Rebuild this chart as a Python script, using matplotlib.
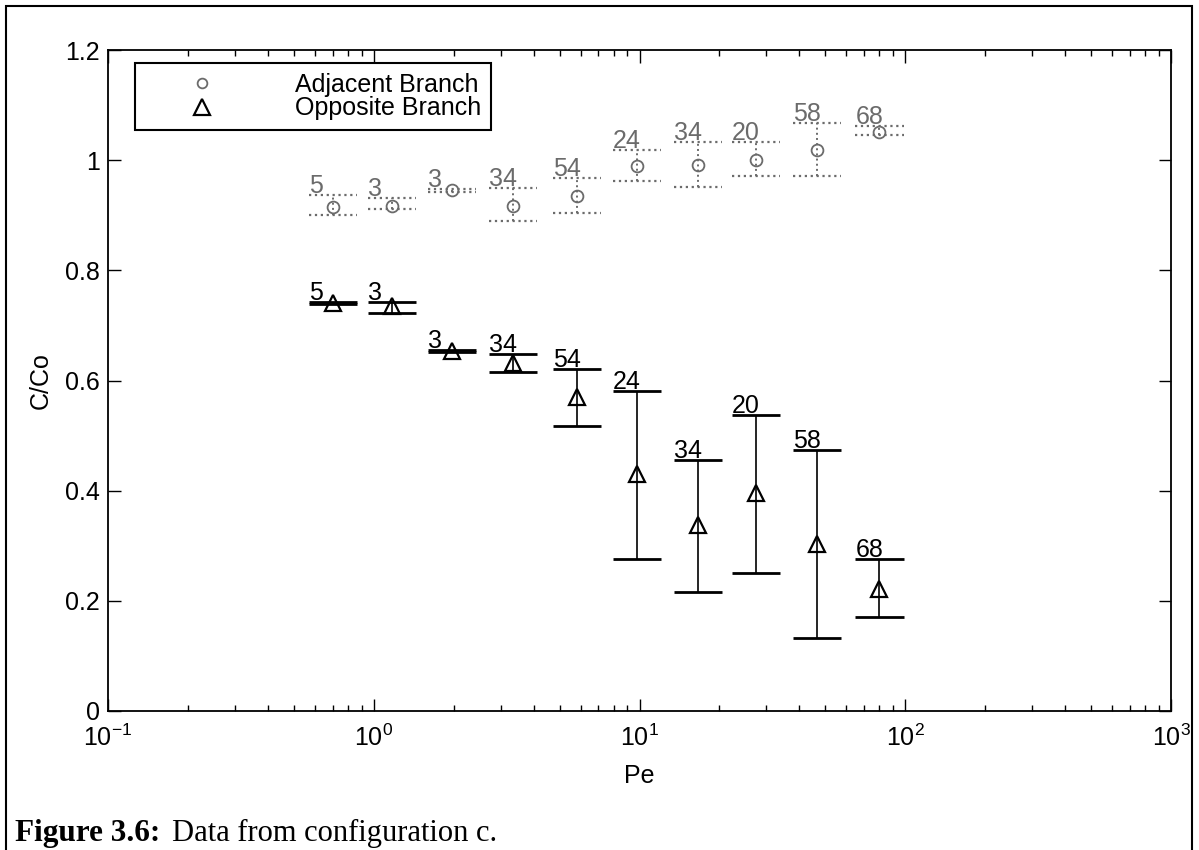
import matplotlib
matplotlib.use('Agg')
import matplotlib.pyplot as plt
import numpy as np
from matplotlib.patches import Rectangle
from matplotlib.ticker import LogLocator, NullLocator, NullFormatter

# ---- data ----
pe = [0.70, 1.17, 1.97, 3.35, 5.8, 9.8, 16.6, 27.5, 46.5, 80.0]
counts = [5, 3, 3, 34, 54, 24, 34, 20, 58, 68]

adj_mean = [0.915, 0.916, 0.945, 0.916, 0.935, 0.989, 0.992, 1.000, 1.018, 1.052]
adj_low = [0.901, 0.912, 0.943, 0.889, 0.904, 0.963, 0.951, 0.971, 0.971, 1.045]
adj_high = [0.936, 0.931, 0.948, 0.949, 0.968, 1.018, 1.033, 1.033, 1.067, 1.062]

opp_mean = [0.740, 0.735, 0.654, 0.631, 0.570, 0.430, 0.337, 0.395, 0.303, 0.222]
opp_low = [0.738, 0.722, 0.652, 0.616, 0.517, 0.276, 0.216, 0.250, 0.133, 0.171]
opp_high = [0.742, 0.743, 0.655, 0.648, 0.621, 0.581, 0.456, 0.538, 0.473, 0.276]

yticks = [0, 0.2, 0.4, 0.6, 0.8, 1.0, 1.2]
ytick_labels = ['0', '0.2', '0.4', '0.6', '0.8', '1', '1.2']
xticks = [0.1, 1, 10, 100, 1000]
xtick_labels = ['$10^{-1}$', '$10^{0}$', '$10^{1}$', '$10^{2}$', '$10^{3}$']

plt.rcParams['font.family'] = ['Liberation Sans', 'DejaVu Sans']
plt.rcParams['mathtext.default'] = 'regular'

W, H = 1199, 850
fig = plt.figure(figsize=(W / 100, H / 100), dpi=100)
L, R, T, B = 108, 1171, 50, 711
ax = fig.add_axes([L / W, 1 - B / H, (R - L) / W, (B - T) / H])
ax.set_xscale('log')
ax.set_xlim(0.1, 1000)
ax.set_ylim(0, 1.2)

gray = '0.42'
pe_a = np.array(pe)
f = 10 ** (24 / 265.5)   # half-width of caps (multiplicative on log axis)

# adjacent branch
ax.vlines(pe, adj_low, adj_high, colors=gray, linestyles=':', lw=1.4)
ax.hlines(adj_low, pe_a / f, pe_a * f, colors=gray, linestyles=':', lw=1.6)
ax.hlines(adj_high, pe_a / f, pe_a * f, colors=gray, linestyles=':', lw=1.6)
ax.plot(pe, adj_mean, 'o', ms=8.5, mfc='none', mec=gray, mew=1.3,
        label='Adjacent Branch')

# opposite branch
ax.vlines(pe, opp_low, opp_high, colors='k', lw=1.2)
ax.hlines(opp_low, pe_a / f, pe_a * f, colors='k', lw=2)
ax.hlines(opp_high, pe_a / f, pe_a * f, colors='k', lw=2)
ax.plot(pe, opp_mean, '^', ms=11, mfc='none', mec='k', mew=1.6,
        label='Opposite Branch')

for x, hi, n in zip(pe, adj_high, counts):
    ax.annotate(str(n), xy=(x / f, hi), xytext=(0, 1.5), textcoords='offset points',
                ha='left', va='baseline', color=gray, fontsize=18)
for x, hi, n in zip(pe, opp_high, counts):
    ax.annotate(str(n), xy=(x / f, hi), xytext=(0, 1.5), textcoords='offset points',
                ha='left', va='baseline', color='k', fontsize=18)

# ticks
ax.set_yticks(yticks)
ax.set_yticklabels(ytick_labels)
ax.set_xticks(xticks)
ax.set_xticklabels(xtick_labels)
ax.xaxis.set_minor_locator(LogLocator(base=10, subs=np.arange(2, 10)))
ax.xaxis.set_minor_formatter(NullFormatter())
ax.yaxis.set_minor_locator(NullLocator())
ax.tick_params(which='both', direction='in', top=True, right=True, width=1)
ax.tick_params(which='major', length=9, labelsize=18)
ax.tick_params(which='minor', length=4.5)
ax.tick_params(axis='y', pad=6)
ax.tick_params(axis='x', pad=10)
for s in ax.spines.values():
    s.set_linewidth(1.3)

ax.set_ylabel('C/Co', fontsize=18)
ax.yaxis.set_label_coords(-0.052, 0.5)
ax.set_xlabel('Pe', fontsize=18)
ax.xaxis.set_label_coords(0.5, -0.080)

leg = ax.legend(loc='upper left', bbox_to_anchor=(27 / (R - L), (B - 63) / (B - T)),
                borderaxespad=0, fontsize=18, frameon=True, fancybox=False,
                edgecolor='k', framealpha=1, borderpad=0.4, handlelength=4.56,
                handletextpad=1.44, labelspacing=-0.03, numpoints=1)
leg.get_frame().set_linewidth(1.5)
leg.legend_handles[0].set_markersize(7)

# outer frame
fig.add_artist(Rectangle((6 / W, -0.05), (1192 - 6) / W, 1.05 - 6 / H,
                         transform=fig.transFigure, fill=False, lw=1.5, ec='k'))

# caption
t1 = fig.text(15 / W, 9 / H, 'Figure 3.6:', fontfamily='Liberation Serif',
              fontweight='bold', fontsize=22.5, va='baseline')
r = fig.canvas.get_renderer()
bb = t1.get_window_extent(r)
fig.text((bb.x1 + 12) / W, 9 / H, 'Data from configuration c.',
         fontfamily='Liberation Serif', fontsize=22, va='baseline')

fig.savefig('out.png', dpi=100)
